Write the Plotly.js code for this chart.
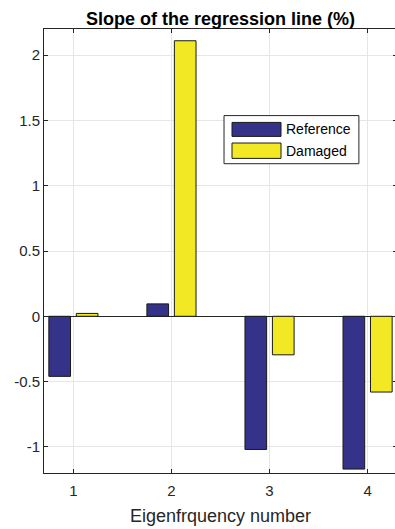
<!DOCTYPE html>
<html>
<head>
<meta charset="utf-8">
<script src="https://cdn.plot.ly/plotly-3.0.1.min.js"></script>
<style>html,body{margin:0;padding:0;overflow:hidden;background:#fff;width:395px;height:529px;}</style>
</head>
<body>
<div id="chart"></div>
<script>
var categories = [1, 2, 3, 4];
var seriesNames = ["Reference", "Damaged"];
var referenceValues = [-0.46, 0.095, -1.02, -1.17];
var damagedValues = [0.022, 2.11, -0.295, -0.58];
var xTickLabels = ["1", "2", "3", "4"];
var yTickValues = [-1, -0.5, 0, 0.5, 1, 1.5, 2];
var yTickLabels = ["-1", "-0.5", "0", "0.5", "1", "1.5", "2"];
var colors = ["#35328a", "#f2e823"];

var font = "Liberation Sans, Arial, Helvetica, sans-serif";
var axisColor = "#262626";

var traces = [
  {type: "bar", x: categories, y: referenceValues, name: seriesNames[0],
   marker: {color: colors[0], line: {color: "#1a1a1a", width: 1}}, showlegend: false},
  {type: "bar", x: categories, y: damagedValues, name: seriesNames[1],
   marker: {color: colors[1], line: {color: "#1a1a1a", width: 1}}, showlegend: false}
];

// manual MATLAB-style legend
var lg = {x0: 0.51, x1: 0.892, y0: 0.6966, y1: 0.805};
var sw = [{y0: 0.7581, y1: 0.7896, ty: 0.774}, {y0: 0.7086, y1: 0.7432, ty: 0.726}];
var shapes = [{type: "rect", xref: "paper", yref: "paper", x0: lg.x0, x1: lg.x1, y0: lg.y0, y1: lg.y1,
  line: {color: axisColor, width: 1}, fillcolor: "#ffffff", layer: "above"}];
var annotations = [];
for (var i = 0; i < seriesNames.length; i++) {
  shapes.push({type: "rect", xref: "paper", yref: "paper", x0: 0.5326, x1: 0.6714, y0: sw[i].y0, y1: sw[i].y1,
    line: {color: "#1a1a1a", width: 1}, fillcolor: colors[i], layer: "above"});
  annotations.push({xref: "paper", yref: "paper", x: 0.6805, y: sw[i].ty, xanchor: "left", yanchor: "middle",
    text: seriesNames[i], showarrow: false, font: {family: font, size: 14, color: "#000"}});
}

var layout = {
  width: 398, height: 529,
  margin: {l: 44, r: 1, t: 29, b: 56},
  paper_bgcolor: "#ffffff", plot_bgcolor: "#ffffff",
  barmode: "group", bargap: 0.44, bargroupgap: 0.21,
  title: {text: "<b>Slope of the regression line (%)</b>", font: {family: font, size: 18, color: "#000"},
    x: 0.5, xref: "paper", y: 1, yref: "paper", yanchor: "bottom", pad: {b: 4}},
  xaxis: {range: [0.7, 4.3], tickvals: categories, ticktext: xTickLabels,
    ticks: "inside", ticklen: 4, tickcolor: axisColor, tickwidth: 1,
    showline: true, linecolor: axisColor, linewidth: 1, mirror: "ticks",
    showgrid: true, gridcolor: "#e6e6e6", gridwidth: 1, zeroline: false,
    ticklabelstandoff: 4,
    tickfont: {family: font, size: 15, color: axisColor},
    title: {text: "Eigenfrquency number", font: {family: font, size: 18, color: axisColor}, standoff: 11}},
  yaxis: {range: [-1.2, 2.2], tickvals: yTickValues, ticktext: yTickLabels,
    ticks: "inside", ticklen: 4, tickcolor: axisColor, tickwidth: 1,
    showline: true, linecolor: axisColor, linewidth: 1, mirror: "ticks",
    showgrid: true, gridcolor: "#e6e6e6", gridwidth: 1,
    zeroline: true, zerolinecolor: axisColor, zerolinewidth: 1,
    tickfont: {family: font, size: 15, color: axisColor}},
  shapes: shapes,
  annotations: annotations
};

Plotly.newPlot("chart", traces, layout, {staticPlot: true, displayModeBar: false});
</script>
</body>
</html>
